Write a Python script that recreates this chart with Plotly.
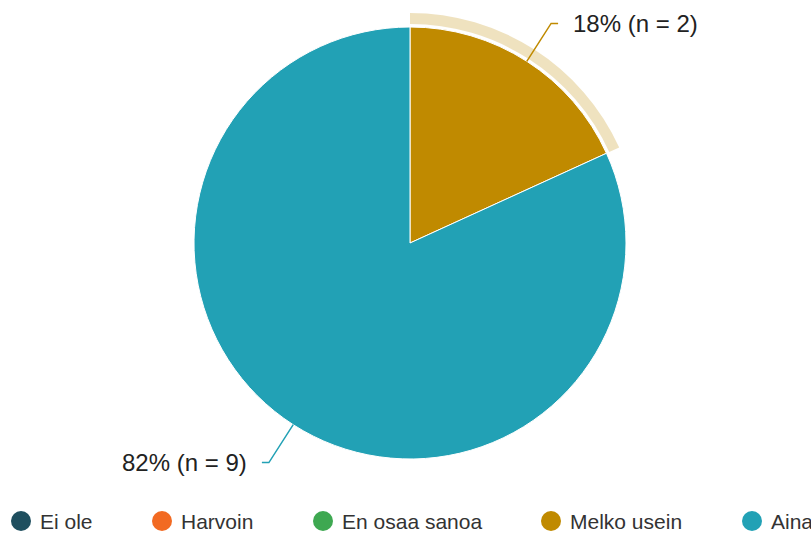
import math
import plotly.graph_objects as go

labels = ["Ei ole", "Harvoin", "En osaa sanoa", "Melko usein", "Aina"]
counts = [0, 0, 0, 2, 9]
colors = ["#1f4f5f", "#f26a22", "#3ea851", "#c08a00", "#22a1b5"]
highlighted = "Melko usein"

W, H = 811, 533
cx, cy, R = 410, 243, 216
halo_in, halo_out = 219, 230
legend_x = [21, 162, 323, 551, 752]
legend_y = 521
font_family = "Liberation Sans, Arial, sans-serif"


def px(x):
    return x / W


def py(y):
    return 1 - y / H


def domain(r):
    return dict(x=[px(cx - r), px(cx + r)], y=[py(cy + r), py(cy - r)])


fig = go.Figure()

# halo around highlighted slice
halo_colors = ["rgba(192,138,0,0.25)" if l == highlighted else "rgba(0,0,0,0)" for l in labels]
fig.add_trace(go.Pie(
    labels=labels, values=counts, sort=False, direction="clockwise", rotation=0,
    hole=halo_in / halo_out, domain=domain(halo_out),
    marker=dict(colors=halo_colors, line=dict(width=0)),
    textinfo="none", hoverinfo="skip", showlegend=False,
))

fig.add_trace(go.Pie(
    labels=labels, values=counts, sort=False, direction="clockwise", rotation=0,
    domain=domain(R),
    marker=dict(colors=colors, line=dict(color="white", width=1)),
    textinfo="none", showlegend=False,
))

shapes = []
annotations = []
total = sum(counts)
cum = 0
for lab, v, col in zip(labels, counts, colors):
    if v == 0:
        continue
    mid = (cum + v / 2) / total * 2 * math.pi
    cum += v
    s, c = math.sin(mid), math.cos(mid)
    side = 1 if s >= 0 else -1
    x1, y1 = cx + R * s, cy - R * c
    x2, y2 = cx + (R + 45) * s, cy - (R + 45) * c
    x3 = x2 + 7 * side
    path = f"M {px(x1)} {py(y1)} L {px(x2)} {py(y2)} L {px(x3)} {py(y2)}"
    shapes.append(dict(type="path", xref="paper", yref="paper", path=path,
                       line=dict(color=col, width=1.5)))
    pct = round(v / total * 100)
    annotations.append(dict(
        x=px(x2 + 20 * side), y=py(y2), xref="paper", yref="paper",
        text=f"{pct}% (n = {v})", showarrow=False,
        xanchor="left" if side > 0 else "right", yanchor="middle",
        font=dict(size=24, color="#222", family=font_family),
    ))

# legend
rr = 10
for lab, col, lx in zip(labels, colors, legend_x):
    shapes.append(dict(type="circle", xref="paper", yref="paper",
                       x0=px(lx - rr), x1=px(lx + rr), y0=py(legend_y + rr), y1=py(legend_y - rr),
                       fillcolor=col, line=dict(width=0)))
    annotations.append(dict(
        x=px(lx + 17), y=py(legend_y), xref="paper", yref="paper",
        text=lab, showarrow=False, xanchor="left", yanchor="middle",
        font=dict(size=21, color="#333", family=font_family),
    ))

fig.update_layout(
    width=W, height=H, margin=dict(l=0, r=0, t=0, b=0),
    paper_bgcolor="white", plot_bgcolor="white",
    showlegend=False, shapes=shapes, annotations=annotations,
    font=dict(family=font_family),
)

fig.write_html(
    "out.html",
    config={"displayModeBar": False},
    post_script="document.body.style.margin='0';document.body.style.overflow='hidden';",
)
